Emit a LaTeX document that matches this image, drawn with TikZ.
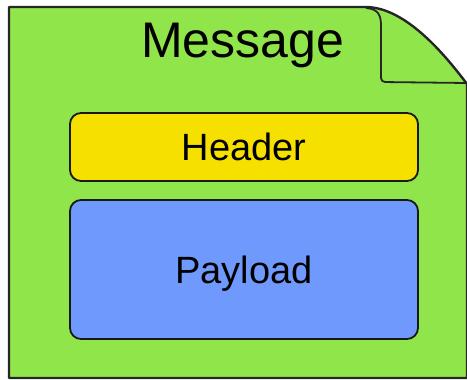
\documentclass[tikz,border=0pt]{standalone}
\usepackage{fontspec}
\setmainfont{Liberation Sans}
\definecolor{msggreen}{RGB}{143,229,74}
\definecolor{hdryellow}{RGB}{245,224,0}
\definecolor{pldblue}{RGB}{111,153,252}
\begin{document}
\begin{tikzpicture}[x=1pt,y=-1pt,
  part/.style={draw=black!90, line width=1.8pt, rounded corners=11pt, minimum width=348pt, inner sep=0pt, text height=27pt, text depth=0pt, font=\fontsize{38}{44}\selectfont}]
\useasboundingbox (0,0) rectangle (467,380);
\draw[fill=msggreen, draw=black!85, line width=2.4pt, line join=round] (9,378) -- (9,7) -- (364,7) .. controls (402,6) and (440,48) .. (467,84) -- (467,378) -- cycle;
\draw[draw=black!85, line width=1.8pt, rounded corners=4pt] (366,8) .. controls (379,9) and (381,16) .. (381,30) -- (381,82) -- (467,83);
\node[anchor=base, font=\fontsize{50}{60}\selectfont] (msg) at (242.5,57) {Message};
\node[part, fill=hdryellow, minimum height=68pt] (hdr) at (244,147) {Header};
\node[part, fill=pldblue, minimum height=139pt] (pld) at (244,269.5) {Payload};
\end{tikzpicture}
\end{document}
